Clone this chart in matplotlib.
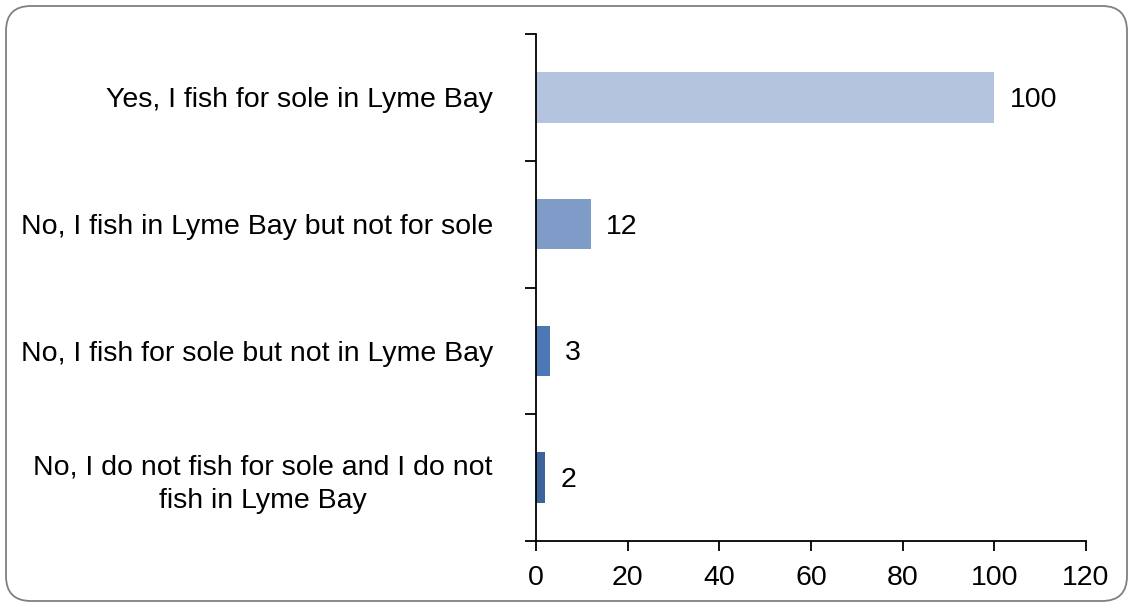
import matplotlib.pyplot as plt
from matplotlib.patches import FancyBboxPatch

categories = [
    "Yes, I fish for sole in Lyme Bay",
    "No, I fish in Lyme Bay but not for sole",
    "No, I fish for sole but not in Lyme Bay",
    "No, I do not fish for sole and I do not\nfish in Lyme Bay",
]
values = [100, 12, 3, 2]
colors = ["#B4C3DE", "#7F9CC8", "#4C78B5", "#3D6498"]

plt.rcParams["font.family"] = ["Liberation Sans", "DejaVu Sans"]
fs = 20.5

fig = plt.figure(figsize=(11.33, 6.07), dpi=100)
ax = fig.add_axes([536 / 1133, 1 - 541 / 607, (1086 - 536) / 1133, (541 - 34) / 607])

y = list(range(len(categories)))
ax.barh(y, values, height=0.4, color=colors)
for yi, v in zip(y, values):
    ax.text(v + 3.3, yi + 0.02, str(v), va="center", ha="left", fontsize=fs)

ax.set_ylim(len(categories) - 0.5, -0.5)
ax.set_xlim(0, 120)
ax.set_xticks(range(0, 121, 20))
ax.set_yticks([i - 0.5 for i in range(len(categories) + 1)], minor=False)
ax.set_yticklabels([])
ax.set_yticks(y, minor=True)
ax.set_yticklabels(categories, minor=True, fontsize=fs, ha="right",
                   multialignment="center", linespacing=1.35)
ax.tick_params(axis="y", which="minor", length=0, pad=31)
ax.tick_params(axis="y", which="major", length=8, width=1.3, direction="out")
ax.tick_params(axis="x", length=7, width=1.3, direction="out", labelsize=fs, pad=10)

for s in ["top", "right"]:
    ax.spines[s].set_visible(False)
for s in ["left", "bottom"]:
    ax.spines[s].set_linewidth(1.3)

frame = FancyBboxPatch((6 / 1133, 6 / 607), 1121 / 1133, 595 / 607,
                       boxstyle="round,pad=0,rounding_size=0.022",
                       transform=fig.transFigure, facecolor="none",
                       edgecolor="#808080", linewidth=1.3, mutation_aspect=1133 / 607)
fig.patches.append(frame)

fig.savefig("out.png", dpi=100)
